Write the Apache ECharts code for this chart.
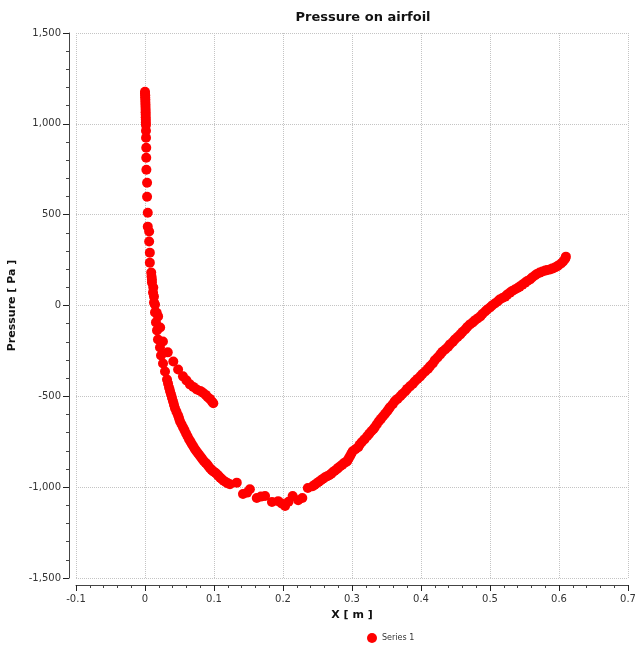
<!DOCTYPE html>
<html>
<head>
<meta charset="utf-8">
<script src="https://cdn.jsdelivr.net/npm/echarts@6/dist/echarts.min.js"></script>
<style>
html,body{margin:0;padding:0;background:#fff;}
#chart{width:640px;height:646px;}
</style>
</head>
<body>
<div id="chart"></div>
<script>
// Stagnation region (shared start of both surfaces): [x (m), pressure (Pa)]
var stagnationPts = [
  [0.000,1176],[0.000,1168],[0.0003,1158],[0.0003,1146],[0.0005,1134],[0.0005,1120],
  [0.0007,1106],[0.0007,1092],[0.0009,1078],[0.0009,1064],[0.001,1050],[0.001,1036],
  [0.0012,1022],[0.0012,1008],[0.0014,994],[0.0014,962],[0.0015,923],[0.0018,868],
  [0.0018,813],[0.002,747],[0.003,676],[0.003,599],[0.004,511],[0.004,434],
  [0.006,407],[0.006,352],[0.007,291],[0.007,236],[0.009,181],[0.0095,160]
];
// Short branch ending near x = 0.1
var shortBranch = [
  [0.010,143],[0.012,99],[0.013,49],[0.0145,5],[0.017,-40],[0.019,-60],[0.022,-121],
  [0.026,-198],[0.033,-258],[0.041,-308],[0.048,-352],[0.055,-390],[0.060,-412],
  [0.065,-434],[0.070,-448],[0.075,-462],[0.080,-470],[0.084,-480],[0.088,-492],
  [0.091,-505],[0.094,-514],[0.097,-528],[0.099,-538]
];
// Long branch to the trailing edge
var longBranch = [
  [0.0101,126],[0.0116,71],[0.0130,16],[0.0145,-38],[0.0159,-93],[0.0174,-137],
  [0.0188,-187],[0.0217,-231],[0.0232,-275],[0.0261,-319],[0.0290,-363],[0.0319,-407],
  [0.0334,-429],[0.0348,-451],[0.0362,-470],[0.0377,-489],[0.0391,-508],[0.0406,-527],
  [0.042,-546],[0.0435,-566],[0.0456,-585],[0.0478,-604],[0.0493,-620],[0.0507,-637],
  [0.0529,-654],[0.0551,-670],[0.0572,-686],[0.0594,-703],[0.0616,-720],[0.0638,-736],
  [0.066,-750],[0.0681,-764],[0.0703,-778],[0.0725,-791],[0.0746,-802],[0.0768,-813],
  [0.079,-824],[0.0812,-835],[0.0833,-846],[0.0855,-857],[0.0877,-866],[0.0899,-874],
  [0.092,-885],[0.0942,-896],[0.0964,-904],[0.0986,-912],[0.1008,-918],[0.1029,-923],
  [0.105,-932],[0.1072,-940],[0.109,-948],[0.1116,-956],[0.114,-965],[0.1174,-973],
  [0.120,-979],[0.1232,-984],[0.133,-975],[0.142,-1038],
  [0.148,-1030],[0.152,-1011],[0.162,-1060],[0.168,-1052],[0.174,-1049],[0.184,-1082],
  [0.193,-1077],[0.198,-1090],[0.203,-1104],[0.208,-1080],[0.214,-1049],[0.222,-1072],
  [0.228,-1060],[0.236,-1005],[0.243,-995],[0.246,-987],[0.249,-978],[0.252,-970],
  [0.255,-962],[0.258,-954],[0.261,-945],[0.264,-940],[0.267,-934],[0.270,-926],
  [0.272,-918],[0.275,-910],[0.278,-901],[0.280,-893],[0.283,-885],[0.286,-877],
  [0.288,-868],[0.291,-862],[0.293,-857],[0.295,-844],[0.297,-830],[0.299,-816],
  [0.301,-802],[0.305,-791],[0.309,-780],[0.311,-767],[0.314,-753],[0.318,-737],
  [0.322,-720],[0.325,-706],[0.328,-692],[0.331,-681],[0.333,-670],[0.336,-654],
  [0.339,-637],[0.342,-624],[0.345,-610],[0.348,-596],[0.351,-582],[0.353,-571],
  [0.355,-560],[0.359,-544],[0.362,-527],[0.366,-514],[0.370,-500],[0.373,-487],
  [0.377,-473],[0.380,-459],[0.384,-445],[0.388,-432],[0.391,-418],[0.395,-404],
  [0.399,-390],[0.402,-377],[0.406,-363],[0.410,-349],[0.413,-335],[0.417,-319],
  [0.420,-302],[0.424,-286],[0.428,-269],[0.431,-255],[0.435,-242],[0.439,-228],
  [0.442,-214],[0.446,-201],[0.449,-187],[0.453,-173],[0.457,-159],[0.460,-146],
  [0.464,-132],[0.467,-118],[0.471,-104],[0.475,-93],[0.478,-82],[0.482,-71],
  [0.486,-60],[0.489,-47],[0.493,-33],[0.496,-22],[0.500,-11],[0.503,0],[0.507,11],
  [0.511,22],[0.514,33],[0.518,41],[0.522,49],[0.525,60],[0.529,71],[0.532,80],
  [0.536,88],[0.540,96],[0.543,104],[0.547,115],[0.551,126],[0.554,135],[0.558,143],
  [0.561,154],[0.565,165],[0.568,173],[0.572,181],[0.576,187],[0.580,192],[0.583,195],
  [0.587,198],[0.590,203],[0.594,209],[0.597,215],[0.599,220],[0.603,231],[0.606,242],
  [0.609,258],[0.610,269]
];
var xTicks = {min:-0.1, max:0.7, interval:0.1};
var yTicks = {min:-1500, max:1500, interval:500};
var seriesName = 'Series 1';

var allPts = stagnationPts.concat(shortBranch, longBranch);
var chart = echarts.init(document.getElementById('chart'), null, {renderer:'canvas'});
var font = 'DejaVu Sans';
chart.setOption({
  animation:false,
  backgroundColor:'#ffffff',
  title:{
    text:'Pressure on airfoil', left:358, top:6, textAlign:'center',
    textStyle:{fontFamily:font, fontSize:13, fontWeight:'bold', color:'#111'}
  },
  legend:{
    data:[{name:seriesName, icon:'circle'}], top:628, left:362, textAlign:'center',
    itemWidth:10, itemHeight:10, itemGap:6,
    textStyle:{fontFamily:font, fontSize:8, color:'#333'}
  },
  grid:{left:76, right:12, top:33, bottom:68, containLabel:false, outerBoundsMode:'none'},
  xAxis:{
    type:'value', min:xTicks.min, max:xTicks.max, interval:xTicks.interval,
    offset:7,
    name:'X [ m ]', nameLocation:'middle', nameGap:25,
    nameTextStyle:{fontFamily:font, fontSize:11, fontWeight:'bold', color:'#111'},
    axisLine:{show:true, onZero:false, lineStyle:{color:'#444', width:1}},
    axisTick:{show:true, inside:false, length:6, lineStyle:{color:'#222'}},
    minorTick:{show:true, splitNumber:5, length:3, lineStyle:{color:'#444'}},
    axisLabel:{fontFamily:font, fontSize:10, color:'#333', margin:9,
      formatter:function(v){return String(Math.round(v*10)/10);}},
    splitLine:{show:true, lineStyle:{color:'#c4c4c4', type:'dotted', width:1}}
  },
  yAxis:{
    type:'value', min:yTicks.min, max:yTicks.max, interval:yTicks.interval,
    offset:7,
    name:'Pressure [ Pa ]', nameLocation:'middle', nameGap:48, nameRotate:90,
    nameTextStyle:{fontFamily:font, fontSize:11, fontWeight:'bold', color:'#111'},
    axisLine:{show:true, onZero:false, lineStyle:{color:'#444', width:1}},
    axisTick:{show:true, inside:false, length:6, lineStyle:{color:'#222'}},
    minorTick:{show:true, splitNumber:5, length:3, lineStyle:{color:'#444'}},
    axisLabel:{fontFamily:font, fontSize:10, color:'#333', margin:8,
      formatter:function(v){return v.toLocaleString('en-US');}},
    splitLine:{show:true, lineStyle:{color:'#c4c4c4', type:'dotted', width:1}}
  },
  series:[{
    name:seriesName, type:'scatter', data:allPts,
    symbol:'circle', symbolSize:10,
    itemStyle:{color:'#ff0000', opacity:1}
  }]
});
</script>
</body>
</html>
